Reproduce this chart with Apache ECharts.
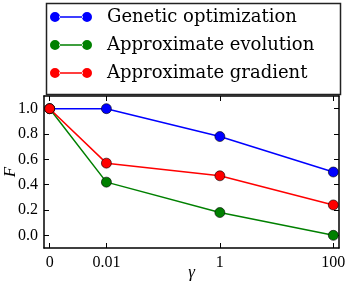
<!DOCTYPE html>
<html>
<head>
<meta charset="utf-8">
<script src="https://cdn.jsdelivr.net/npm/echarts@6/dist/echarts.min.js"></script>
<style>
html,body{margin:0;padding:0;background:#fff;}
#chart{width:347px;height:284px;}
</style>
</head>
<body>
<div id="chart"></div>
<script>
// gamma values (x), plotted on a symlog-like axis
var gammas = [0, 0.01, 1, 100];
var gammaLabels = ['0', '0.01', '1', '100'];
var seriesNames = ['Genetic optimization', 'Approximate evolution', 'Approximate gradient'];
var geneticOpt = [1.0, 1.0, 0.78, 0.50];
var approxEvolution = [1.0, 0.42, 0.18, 0.0];
var approxGradient = [1.0, 0.57, 0.47, 0.24];
var yTicks = [0.0, 0.2, 0.4, 0.6, 0.8, 1.0];
var colors = ['#0000ff', '#008000', '#ff0000'];

function gpos(g) { return g === 0 ? -1 : Math.log10(g) + 2; }
var xTickPos = gammas.map(gpos);
function pairs(vals) { return gammas.map(function (g, i) { return [gpos(g), vals[i]]; }); }

var serif = 'DejaVu Serif';
var tickFont = 'Liberation Serif';
var axisLineStyle = { color: '#000', width: 1.5 };

function xAxisDef(pos, showLabels) {
  return {
    type: 'value', position: pos, min: -1.1, max: 4.1,
    axisLine: { show: true, onZero: false, lineStyle: axisLineStyle },
    axisTick: { show: true, inside: true, length: 5, customValues: xTickPos, lineStyle: { color: '#000', width: 1 } },
    axisLabel: {
      show: showLabels, customValues: xTickPos, margin: 7,
      fontFamily: tickFont, fontSize: 16, color: '#000',
      formatter: function (v) { var i = xTickPos.indexOf(v); return i >= 0 ? gammaLabels[i] : ''; }
    },
    splitLine: { show: false },
    name: showLabels ? 'γ' : '', nameLocation: 'middle', nameGap: 16, nameMoveOverlap: false,
    nameTextStyle: { fontFamily: tickFont, fontStyle: 'italic', fontSize: 17, color: '#000' }
  };
}
function yAxisDef(pos, showLabels) {
  return {
    type: 'value', position: pos, min: -0.1, max: 1.1,
    axisLine: { show: true, onZero: false, lineStyle: axisLineStyle },
    axisTick: { show: true, inside: true, length: 5, customValues: yTicks, lineStyle: { color: '#000', width: 1 } },
    axisLabel: {
      show: showLabels, customValues: yTicks, margin: 6,
      fontFamily: tickFont, fontSize: 16, color: '#000',
      formatter: function (v) { return v.toFixed(1); }
    },
    splitLine: { show: false },
    name: showLabels ? 'F' : '', nameLocation: 'middle', nameGap: 25, nameRotate: 90, nameMoveOverlap: false,
    nameTextStyle: { fontFamily: tickFont, fontStyle: 'italic', fontSize: 17, color: '#000' }
  };
}

var allVals = [geneticOpt, approxEvolution, approxGradient];
var series = seriesNames.map(function (n, i) {
  return {
    name: n, type: 'line', data: pairs(allVals[i]),
    symbol: 'circle', symbolSize: 10,
    itemStyle: { color: colors[i], borderColor: '#000', borderWidth: 0.6 },
    lineStyle: { color: colors[i], width: 1.5 },
    emphasis: { disabled: true }, animation: false, clip: false
  };
});

var chart = echarts.init(document.getElementById('chart'), null, { renderer: 'canvas' });
chart.setOption({
  animation: false,
  backgroundColor: '#fff',
  grid: { left: 44, right: 8, top: 96, bottom: 36, containLabel: false, outerBoundsMode: 'none' },
  xAxis: [xAxisDef('bottom', true), xAxisDef('top', false)],
  yAxis: [yAxisDef('left', true), yAxisDef('right', false)],
  legend: {
    data: seriesNames, orient: 'vertical', left: 45, top: 3,
    icon: 'path://M0,5a5,5 0 1,0 10,0a5,5 0 1,0 -10,0Z M9,4.3L33,4.3L33,5.7L9,5.7Z M32,5a5,5 0 1,0 10,0a5,5 0 1,0 -10,0Z',
    itemWidth: 42, itemHeight: 10, itemGap: 10,
    itemStyle: { borderWidth: 0 },
    textStyle: { fontFamily: serif, fontSize: 18, color: '#000', padding: [0, 0, 0, 10], lineHeight: 18 },
    selectedMode: false
  },
  graphic: [{
    type: 'rect', left: 44, top: 1, z: 0,
    shape: { width: 294, height: 91 },
    style: { fill: 'none', stroke: '#222', lineWidth: 1.5 }
  }],
  series: series
});
</script>
</body>
</html>
